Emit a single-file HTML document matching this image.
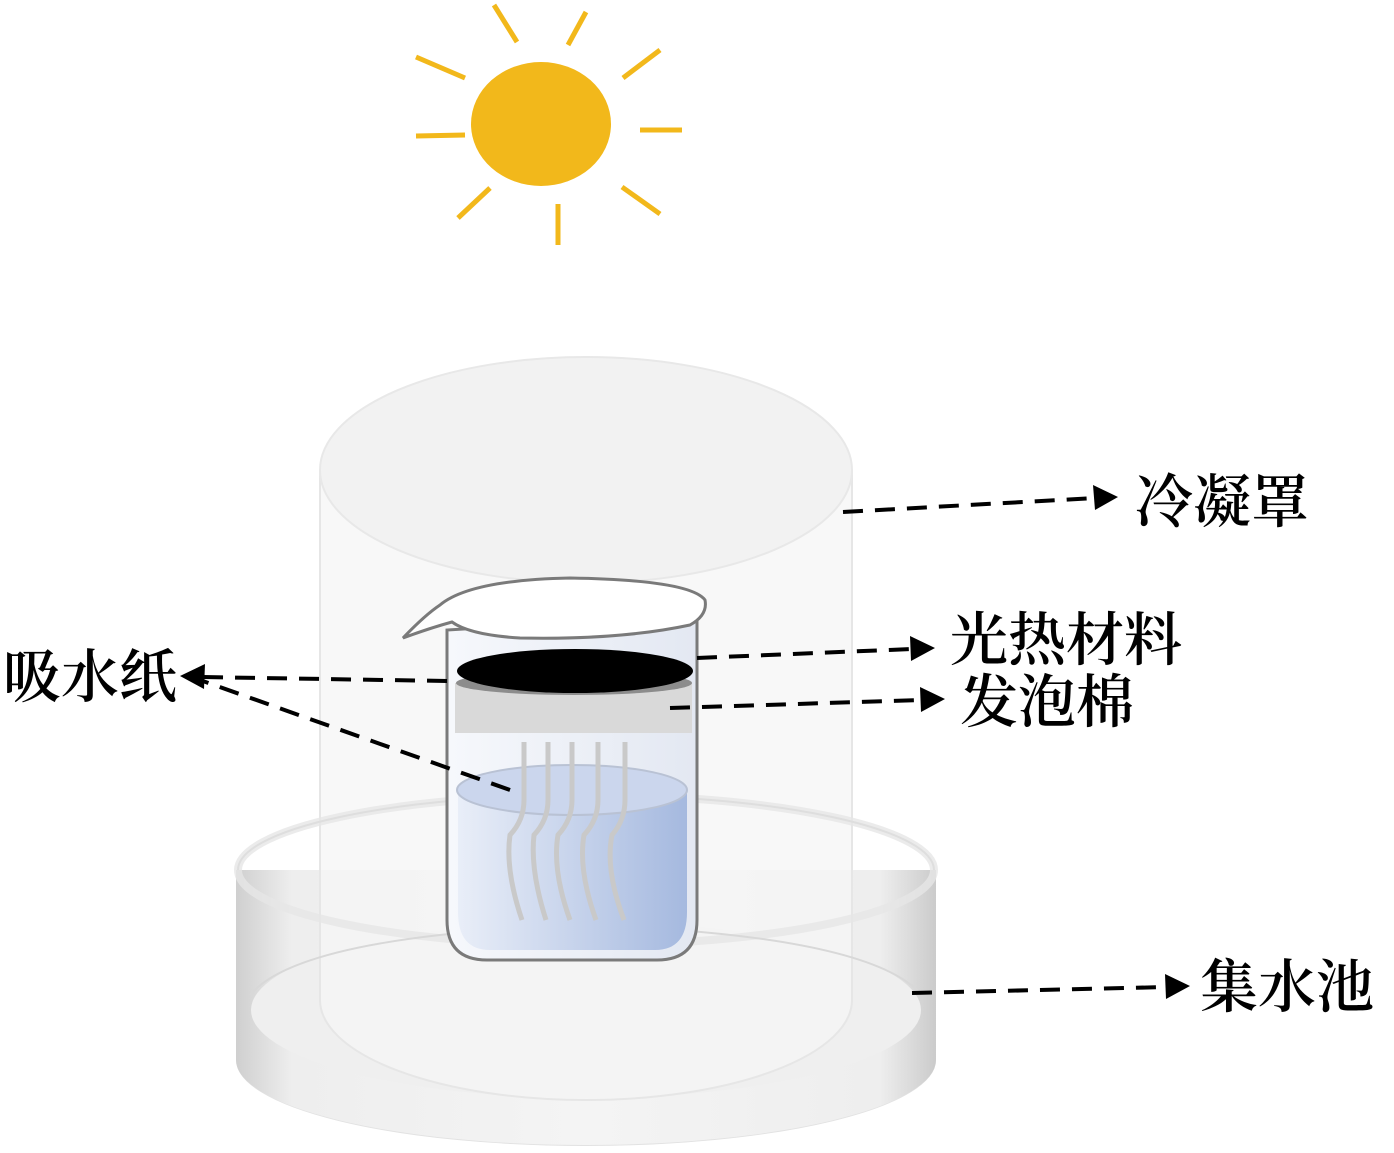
<!DOCTYPE html>
<html><head><meta charset="utf-8"><style>
html,body{margin:0;padding:0;background:#fff;width:1394px;height:1153px;overflow:hidden}
text{font-family:"Liberation Serif","Noto Serif CJK SC",serif;font-size:58px;fill:#000;font-weight:600}
</style></head><body>
<svg width="1394" height="1153" viewBox="0 0 1394 1153" xmlns="http://www.w3.org/2000/svg">
<defs>
<linearGradient id="water" x1="0" x2="1" y1="0" y2="0"><stop offset="0" stop-color="#e9eef8"/><stop offset="1" stop-color="#a5b9df"/></linearGradient>
<linearGradient id="glass" x1="0" x2="1"><stop offset="0" stop-color="#f6f8fc"/><stop offset="1" stop-color="#e3e8f2"/></linearGradient>
<linearGradient id="dishside" x1="0" x2="1"><stop offset="0" stop-color="#cfcfcf"/><stop offset="0.08" stop-color="#eeeeee"/><stop offset="0.5" stop-color="#f4f4f4"/><stop offset="0.92" stop-color="#eeeeee"/><stop offset="1" stop-color="#cbcbcb"/></linearGradient>
</defs>
<!-- sun -->
<ellipse cx="541" cy="124" rx="70" ry="62" fill="#F2B81B"/>
<g stroke="#F2B81B" stroke-width="5">
<line x1="494" y1="5" x2="517" y2="42"/><line x1="586" y1="12" x2="568" y2="45"/>
<line x1="623" y1="78" x2="660" y2="50"/><line x1="640" y1="130" x2="682" y2="130"/>
<line x1="622" y1="187" x2="660" y2="214"/><line x1="558" y1="204" x2="558" y2="245"/>
<line x1="490" y1="188" x2="458" y2="218"/><line x1="465" y1="135" x2="416" y2="136"/>
<line x1="465" y1="78" x2="416" y2="57"/>
</g>
<!-- dish bottom -->
<ellipse cx="586" cy="1060" rx="349" ry="85" fill="#f6f6f6" stroke="#e2e2e2" stroke-width="2"/>
<path d="M236,870 L236,1060 A350,85 0 0 0 936,1060 L936,870 Z" fill="url(#dishside)"/>
<ellipse cx="586" cy="1010" rx="335" ry="88" fill="#efefef"/>
<!-- cover -->
<path d="M320,470 L320,1000 A266,100 0 0 0 852,1000 L852,470 Z" fill="#f6f6f6" fill-opacity="0.75" stroke="#e6e6e6" stroke-width="2"/>
<ellipse cx="586" cy="470" rx="266" ry="113" fill="#f2f2f2" stroke="#e8e8e8" stroke-width="2"/>
<!-- dish rim -->
<ellipse cx="586" cy="870" rx="348" ry="75" fill="none" stroke="#e6e6e6" stroke-width="8" opacity="0.8"/>
<path d="M238,870 A348,75 0 0 1 934,870" fill="none" stroke="#dedede" stroke-width="2"/>
<path d="M250,995 Q300,935 586,925 Q870,935 922,995" fill="none" stroke="#d8d8d8" stroke-width="2"/>
<!-- beaker -->
<path d="M447,630 L447,920 Q447,960 487,960 L657,960 Q697,960 697,920 L697,615 Z" fill="url(#glass)" stroke="#7a7a7a" stroke-width="3"/>
<path d="M458,790 L458,912 Q458,950 490,950 L655,950 Q687,950 687,912 L687,790 Z" fill="url(#water)"/>
<ellipse cx="572" cy="790" rx="115" ry="25" fill="#cbd6ed" stroke="#b9c2d4" stroke-width="2"/>
<rect x="455" y="683" width="237" height="50" fill="#d9d9d9"/>
<ellipse cx="574" cy="683" rx="118" ry="12" fill="#8c8c8c"/>
<ellipse cx="575" cy="671" rx="118" ry="22" fill="#000"/>
<g fill="none" stroke="#c9c9c9" stroke-width="5">
<path d="M524,742 L524,800 Q524,820 510,835 Q505,870 522,920"/>
<path d="M548,742 L548,800 Q548,820 534,835 Q530,870 546,920"/>
<path d="M572,742 L572,800 Q572,820 558,835 Q552,870 570,920"/>
<path d="M598,742 L598,800 Q598,820 584,835 Q578,870 596,920"/>
<path d="M625,742 L625,800 Q625,820 612,835 Q605,870 624,920"/>
</g>
<path d="M403,638 Q425,615 440,605 Q470,580 570,578 Q690,580 705,600 Q708,615 690,625 Q620,640 520,638 Q470,635 452,622 Q430,628 403,638 Z" fill="#fff" stroke="#7a7a7a" stroke-width="3"/>
<!-- arrows -->
<g stroke="#000" stroke-width="4" stroke-dasharray="20,12" fill="none">
<line x1="843" y1="512" x2="1095" y2="498"/>
<line x1="697" y1="658" x2="912" y2="649"/>
<line x1="670" y1="708" x2="922" y2="700"/>
<line x1="912" y1="993" x2="1168" y2="987"/>
<line x1="447" y1="681" x2="200" y2="677"/>
<line x1="510" y1="790" x2="200" y2="680"/>
</g>
<g fill="#000">
<path d="M1118,497 L1093,485 L1095,510 Z"/>
<path d="M935,648 L910,636 L911,661 Z"/>
<path d="M945,699 L920,687 L921,712 Z"/>
<path d="M1190,986 L1165,974 L1166,999 Z"/>
<path d="M180,676 L205,664 L204,689 Z"/>
</g>
<!-- labels -->
<text x="1135" y="522">冷凝罩</text>
<text x="950" y="660">光热材料</text>
<text x="960" y="722">发泡棉</text>
<text x="1200" y="1007">集水池</text>
<text x="3" y="697">吸水纸</text>
</svg>
</body></html>
